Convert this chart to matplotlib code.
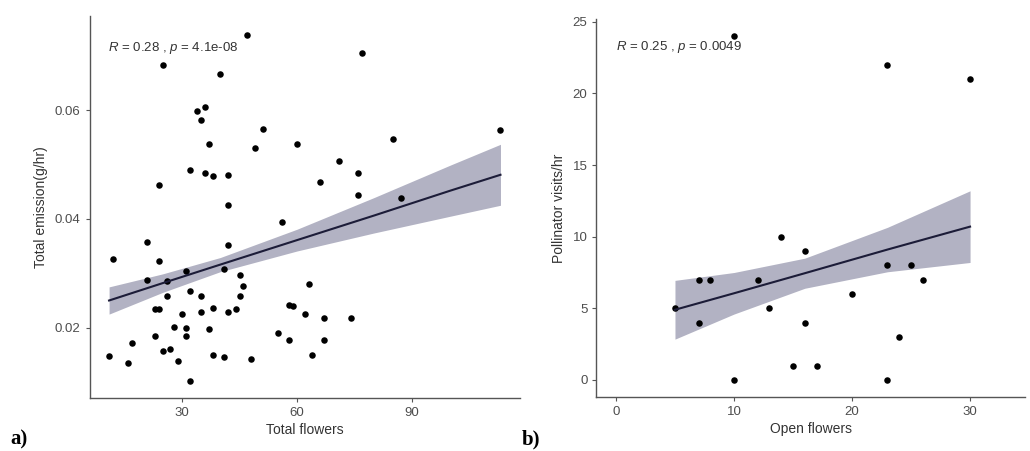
import numpy as np
import matplotlib
matplotlib.use('Agg')
import matplotlib.pyplot as plt

plt.rcParams['font.family'] = ['Liberation Sans', 'DejaVu Sans']
plt.rcParams['mathtext.fontset'] = 'custom'
plt.rcParams['mathtext.it'] = 'Liberation Sans:italic'
plt.rcParams['mathtext.rm'] = 'Liberation Sans'

# panel a: total flowers vs total emission
flowers_a = [11, 12, 16, 17, 21, 21, 23, 23, 24, 24, 24, 25, 25, 26, 26, 27, 28, 29,
             30, 31, 31, 31, 32, 32, 32, 34, 35, 35, 35, 36, 36, 37, 37, 38, 38, 38,
             40, 41, 41, 42, 42, 42, 42, 44, 45, 45, 46, 47, 48, 49, 51, 55, 56, 58,
             59, 58, 60, 62, 63, 64, 66, 67, 67, 71, 74, 76, 76, 77, 85, 87, 113]
emission_a = [0.0148, 0.0326, 0.0135, 0.0171, 0.0357, 0.0288, 0.0185, 0.0234, 0.0234,
              0.0463, 0.0323, 0.0683, 0.0158, 0.0285, 0.0259, 0.0161, 0.0202, 0.0138,
              0.0226, 0.0305, 0.0199, 0.0185, 0.0490, 0.0268, 0.0103, 0.0598, 0.0581,
              0.0258, 0.0229, 0.0605, 0.0484, 0.0538, 0.0197, 0.0479, 0.0236, 0.0150,
              0.0667, 0.0308, 0.0146, 0.0480, 0.0426, 0.0352, 0.0229, 0.0234, 0.0297,
              0.0258, 0.0276, 0.0737, 0.0142, 0.0530, 0.0566, 0.0190, 0.0394, 0.0242,
              0.0240, 0.0177, 0.0538, 0.0225, 0.0281, 0.0150, 0.0468, 0.0217, 0.0177,
              0.0507, 0.0217, 0.0484, 0.0444, 0.0704, 0.0547, 0.0438, 0.0563]

fit_x_a = [11, 25, 40, 60, 80, 100, 113]
fit_y_a = [0.0250, 0.0282, 0.0316, 0.0361, 0.0406, 0.0452, 0.0481]
fit_lo_a = [0.0225, 0.0265, 0.0303, 0.0341, 0.0374, 0.0405, 0.0425]
fit_hi_a = [0.0275, 0.0299, 0.0329, 0.0381, 0.0439, 0.0499, 0.0537]

# panel b: open flowers vs pollinator visits
flowers_b = [5, 7, 7, 8, 10, 10, 12, 13, 14, 15, 16, 16, 17, 20, 23, 23, 23, 24, 25, 26, 30]
visits_b = [5, 7, 4, 7, 24, 0, 7, 5, 10, 1, 9, 4, 1, 6, 22, 8, 0, 3, 8, 7, 21]

fit_x_b = [5, 10, 16, 23, 30]
fit_y_b = [4.9, 6.05, 7.45, 9.1, 10.7]
fit_lo_b = [2.85, 4.6, 6.4, 7.55, 8.2]
fit_hi_b = [6.95, 7.5, 8.5, 10.65, 13.2]

fig = plt.figure(figsize=(10.3, 4.51), dpi=100)
ax1 = fig.add_axes([0.0869, 0.1177, 0.418, 0.8459])
ax2 = fig.add_axes([0.5791, 0.1193, 0.416, 0.839])

band_col = '#b2b2c3'
line_col = '#1c1c38'
axis_col = '#555555'
tick_col = '#4d4d4d'

def style(ax):
    for s in ['top', 'right']:
        ax.spines[s].set_visible(False)
    for s in ['left', 'bottom']:
        ax.spines[s].set_color(axis_col)
        ax.spines[s].set_linewidth(1.0)
    ax.tick_params(colors=axis_col, labelcolor=tick_col, labelsize=9.5, length=3, width=0.8)

ax1.fill_between(fit_x_a, fit_lo_a, fit_hi_a, color=band_col, lw=0)
ax1.scatter(flowers_a, emission_a, s=22, color='black', zorder=3, lw=0)
ax1.plot(fit_x_a, fit_y_a, color=line_col, lw=1.5, zorder=4)
ax1.set_xlim(5.9, 118.1)
ax1.set_ylim(0.0071, 0.0772)
ax1.set_xticks([30, 60, 90])
ax1.set_yticks([0.02, 0.04, 0.06])
ax1.set_xlabel('Total flowers', fontsize=10, color='#333333', labelpad=3)
ax1.set_ylabel('Total emission(g/hr)', fontsize=10, color='#333333', labelpad=5)
ax1.text(10.7, 0.0714, r'$R$ = 0.28 , $p$ = 4.1e-08', fontsize=9.5, color='#333333', va='center')
style(ax1)

ax2.fill_between(fit_x_b, fit_lo_b, fit_hi_b, color=band_col, lw=0)
ax2.scatter(flowers_b, visits_b, s=22, color='black', zorder=3, lw=0)
ax2.plot(fit_x_b, fit_y_b, color=line_col, lw=1.5, zorder=4)
ax2.set_xlim(-1.65, 34.65)
ax2.set_ylim(-1.2, 25.2)
ax2.set_xticks([0, 10, 20, 30])
ax2.set_yticks([0, 5, 10, 15, 20, 25])
ax2.set_xlabel('Open flowers', fontsize=10, color='#333333', labelpad=3)
ax2.set_ylabel('Pollinator visits/hr', fontsize=10, color='#333333', labelpad=5)
ax2.text(0, 23.2, r'$R$ = 0.25 , $p$ = 0.0049', fontsize=9.5, color='#333333', va='center')
style(ax2)

fig.text(10 / 1030, 1 - 439 / 451, 'a)', fontsize=15, fontweight='bold',
         family='Liberation Serif', va='center')
fig.text(522 / 1030, 1 - 439 / 451, 'b)', fontsize=15, fontweight='bold',
         family='Liberation Serif', va='center')

fig.savefig('out.png', dpi=100)
